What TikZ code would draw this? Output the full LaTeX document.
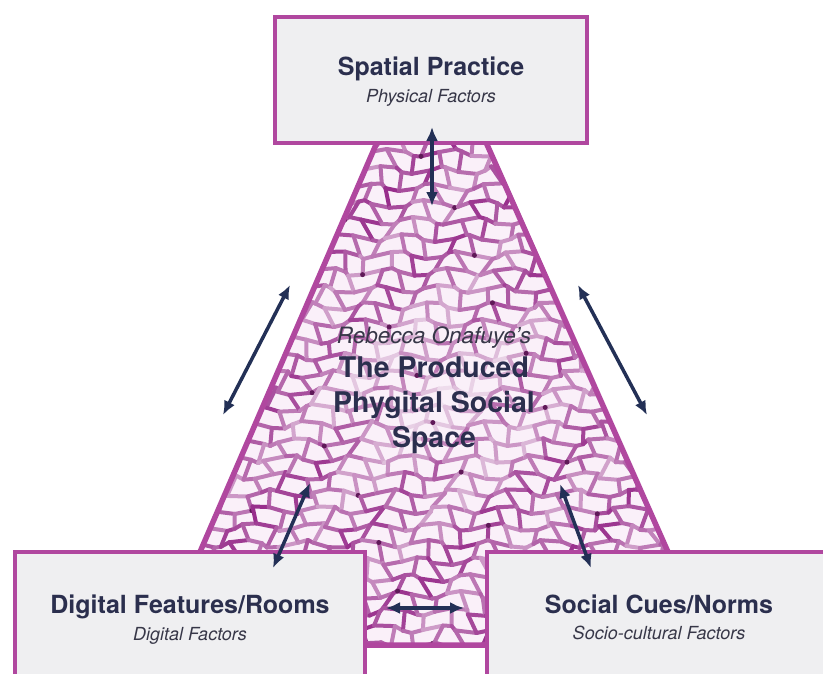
\documentclass[tikz,border=0pt]{standalone}
\usepackage{fontspec}
\setmainfont{TeX Gyre Heros}
\usepackage{tikz}
\usetikzlibrary{arrows.meta,positioning}
\definecolor{phedge}{RGB}{176,71,159}
\definecolor{phbox}{RGB}{239,239,241}
\definecolor{phink}{RGB}{43,47,78}
\definecolor{phsub}{RGB}{55,55,72}
\definecolor{pharr}{RGB}{35,48,86}
\definecolor{phcell}{RGB}{155,52,143}
\definecolor{phbase}{RGB}{250,240,249}
\definecolor{phdot}{RGB}{95,25,88}
\tikzset{
  factor/.style={draw=phedge, line width=4.5pt, fill=phbox, inner sep=0pt},
  ttl/.style={font=\fontsize{25}{29}\selectfont\bfseries, text=phink, inner sep=0pt, anchor=base},
  subttl/.style={font=\fontsize{18}{21}\selectfont\itshape, text=phsub, inner sep=0pt, anchor=base},
  byline/.style={font=\fontsize{22.5}{26}\selectfont\itshape, text=phsub, inner sep=0pt, anchor=base},
  core/.style={font=\fontsize{28.5}{35}\selectfont\bfseries, text=phink, inner sep=0pt,
    align=center, anchor=north},
  wall/.style={line width=4pt, line cap=round},
  rim/.style={draw=phedge, line width=5.5pt},
  dbl/.style={{Latex[length=14pt,width=12pt]}-{Latex[length=14pt,width=12pt]},
    draw=pharr, line width=3.5pt}
}

\begin{document}
\begin{tikzpicture}[x=1pt, y=-1pt]
  \useasboundingbox (0,0) rectangle (823,673);
  \clip (0,0) rectangle (823,673);
  \fill[white] (0,0) rectangle (823,673);

  % cell texture of the produced space
  \begin{scope}
    \clip (378,143) -- (485,143) -- (668,550) -- (487,550) -- (487,645)
      -- (365,645) -- (365,550) -- (200,550) -- cycle;
    \fill[phbase] (180,130) rectangle (690,660);
    \foreach \i in {0,...,41}{
      \foreach \j in {0,...,31}{
        \pgfmathsetmacro\ax{186+\i*12+5*sin(97*\i+131*\j)+2*sin(7*\i*\j+11*\i)}
        \pgfmathsetmacro\ay{136+\j*17+4*cos(71*\i+53*\j)}
        \pgfmathsetmacro\bx{186+(\i+1)*12+5*sin(97*(\i+1)+131*\j)+2*sin(7*(\i+1)*\j+11*(\i+1))}
        \pgfmathsetmacro\by{136+\j*17+4*cos(71*(\i+1)+53*\j)}
        \pgfmathtruncatemacro\tone{max(15,76+16*sin(37*\i+59*\j)+12*cos(113*\i-47*\j)-40*exp(-((\ax-435)/110)^2-((\ay-390)/85)^2))}
        \draw[wall, draw=phcell!\tone!white] (\ax,\ay) -- (\bx,\by);
        \pgfmathtruncatemacro\brk{mod(\i+\j,2)}
        \ifnum\brk=0
          \pgfmathsetmacro\cx{186+\i*12+5*sin(97*\i+131*(\j+1))+2*sin(7*\i*(\j+1)+11*\i)}
          \pgfmathsetmacro\cy{136+(\j+1)*17+4*cos(71*\i+53*(\j+1))}
          \draw[wall, draw=phcell!\tone!white] (\ax,\ay) -- (\cx,\cy);
        \fi
        \pgfmathtruncatemacro\spot{mod(\i*7+\j*5,29)}
        \ifnum\spot=0
          \fill[phdot] (\ax,\ay) circle (2.5pt);
        \fi
      }
    }
  \end{scope}
  \draw[rim] (200,552) -- (378,140) (485,140) -- (668,552) (365,645) -- (487,645);

  % factor boxes
  \node[factor, minimum width=312pt, minimum height=126pt] (spatial) at (431,80) {};
  \node[factor, minimum width=350pt, minimum height=160pt] (digital) at (190,632) {};
  \node[factor, minimum width=346pt, minimum height=160pt] (social) at (660,632) {};

  \node[ttl] (spatial-t) at (431,75) {Spatial Practice};
  \node[subttl] (spatial-s) at (431,102) {Physical Factors};
  \node[ttl] (digital-t) at (190,613) {Digital Features/Rooms};
  \node[subttl] (digital-s) at (190,640) {Digital Factors};
  \node[ttl] (social-t) at (659,613) {Social Cues/Norms};
  \node[subttl] (social-s) at (659,639) {Socio-cultural Factors};

  \node[byline] (author) at (434,343) {Rebecca Onafuye’s};
  \node[core] (space) at (434,357) {The Produced\\Phygital Social\\Space};

  % links
  \coordinate (sp-a) at (432,127);
  \coordinate (sp-b) at (432,206);
  \coordinate (lf-a) at (290,285);
  \coordinate (lf-b) at (223,415);
  \coordinate (rt-a) at (578,285);
  \coordinate (rt-b) at (647,415);
  \coordinate (dg-a) at (310,483);
  \coordinate (dg-b) at (273,568);
  \coordinate (sc-a) at (560,484);
  \coordinate (sc-b) at (591,568);
  \coordinate (bt-a) at (386,608);
  \coordinate (bt-b) at (464,608);
  \draw[dbl] (sp-a) -- (sp-b);
  \draw[dbl] (lf-a) -- (lf-b);
  \draw[dbl] (rt-a) -- (rt-b);
  \draw[dbl] (dg-a) -- (dg-b);
  \draw[dbl] (sc-a) -- (sc-b);
  \draw[dbl] (bt-a) -- (bt-b);
\end{tikzpicture}
\end{document}
